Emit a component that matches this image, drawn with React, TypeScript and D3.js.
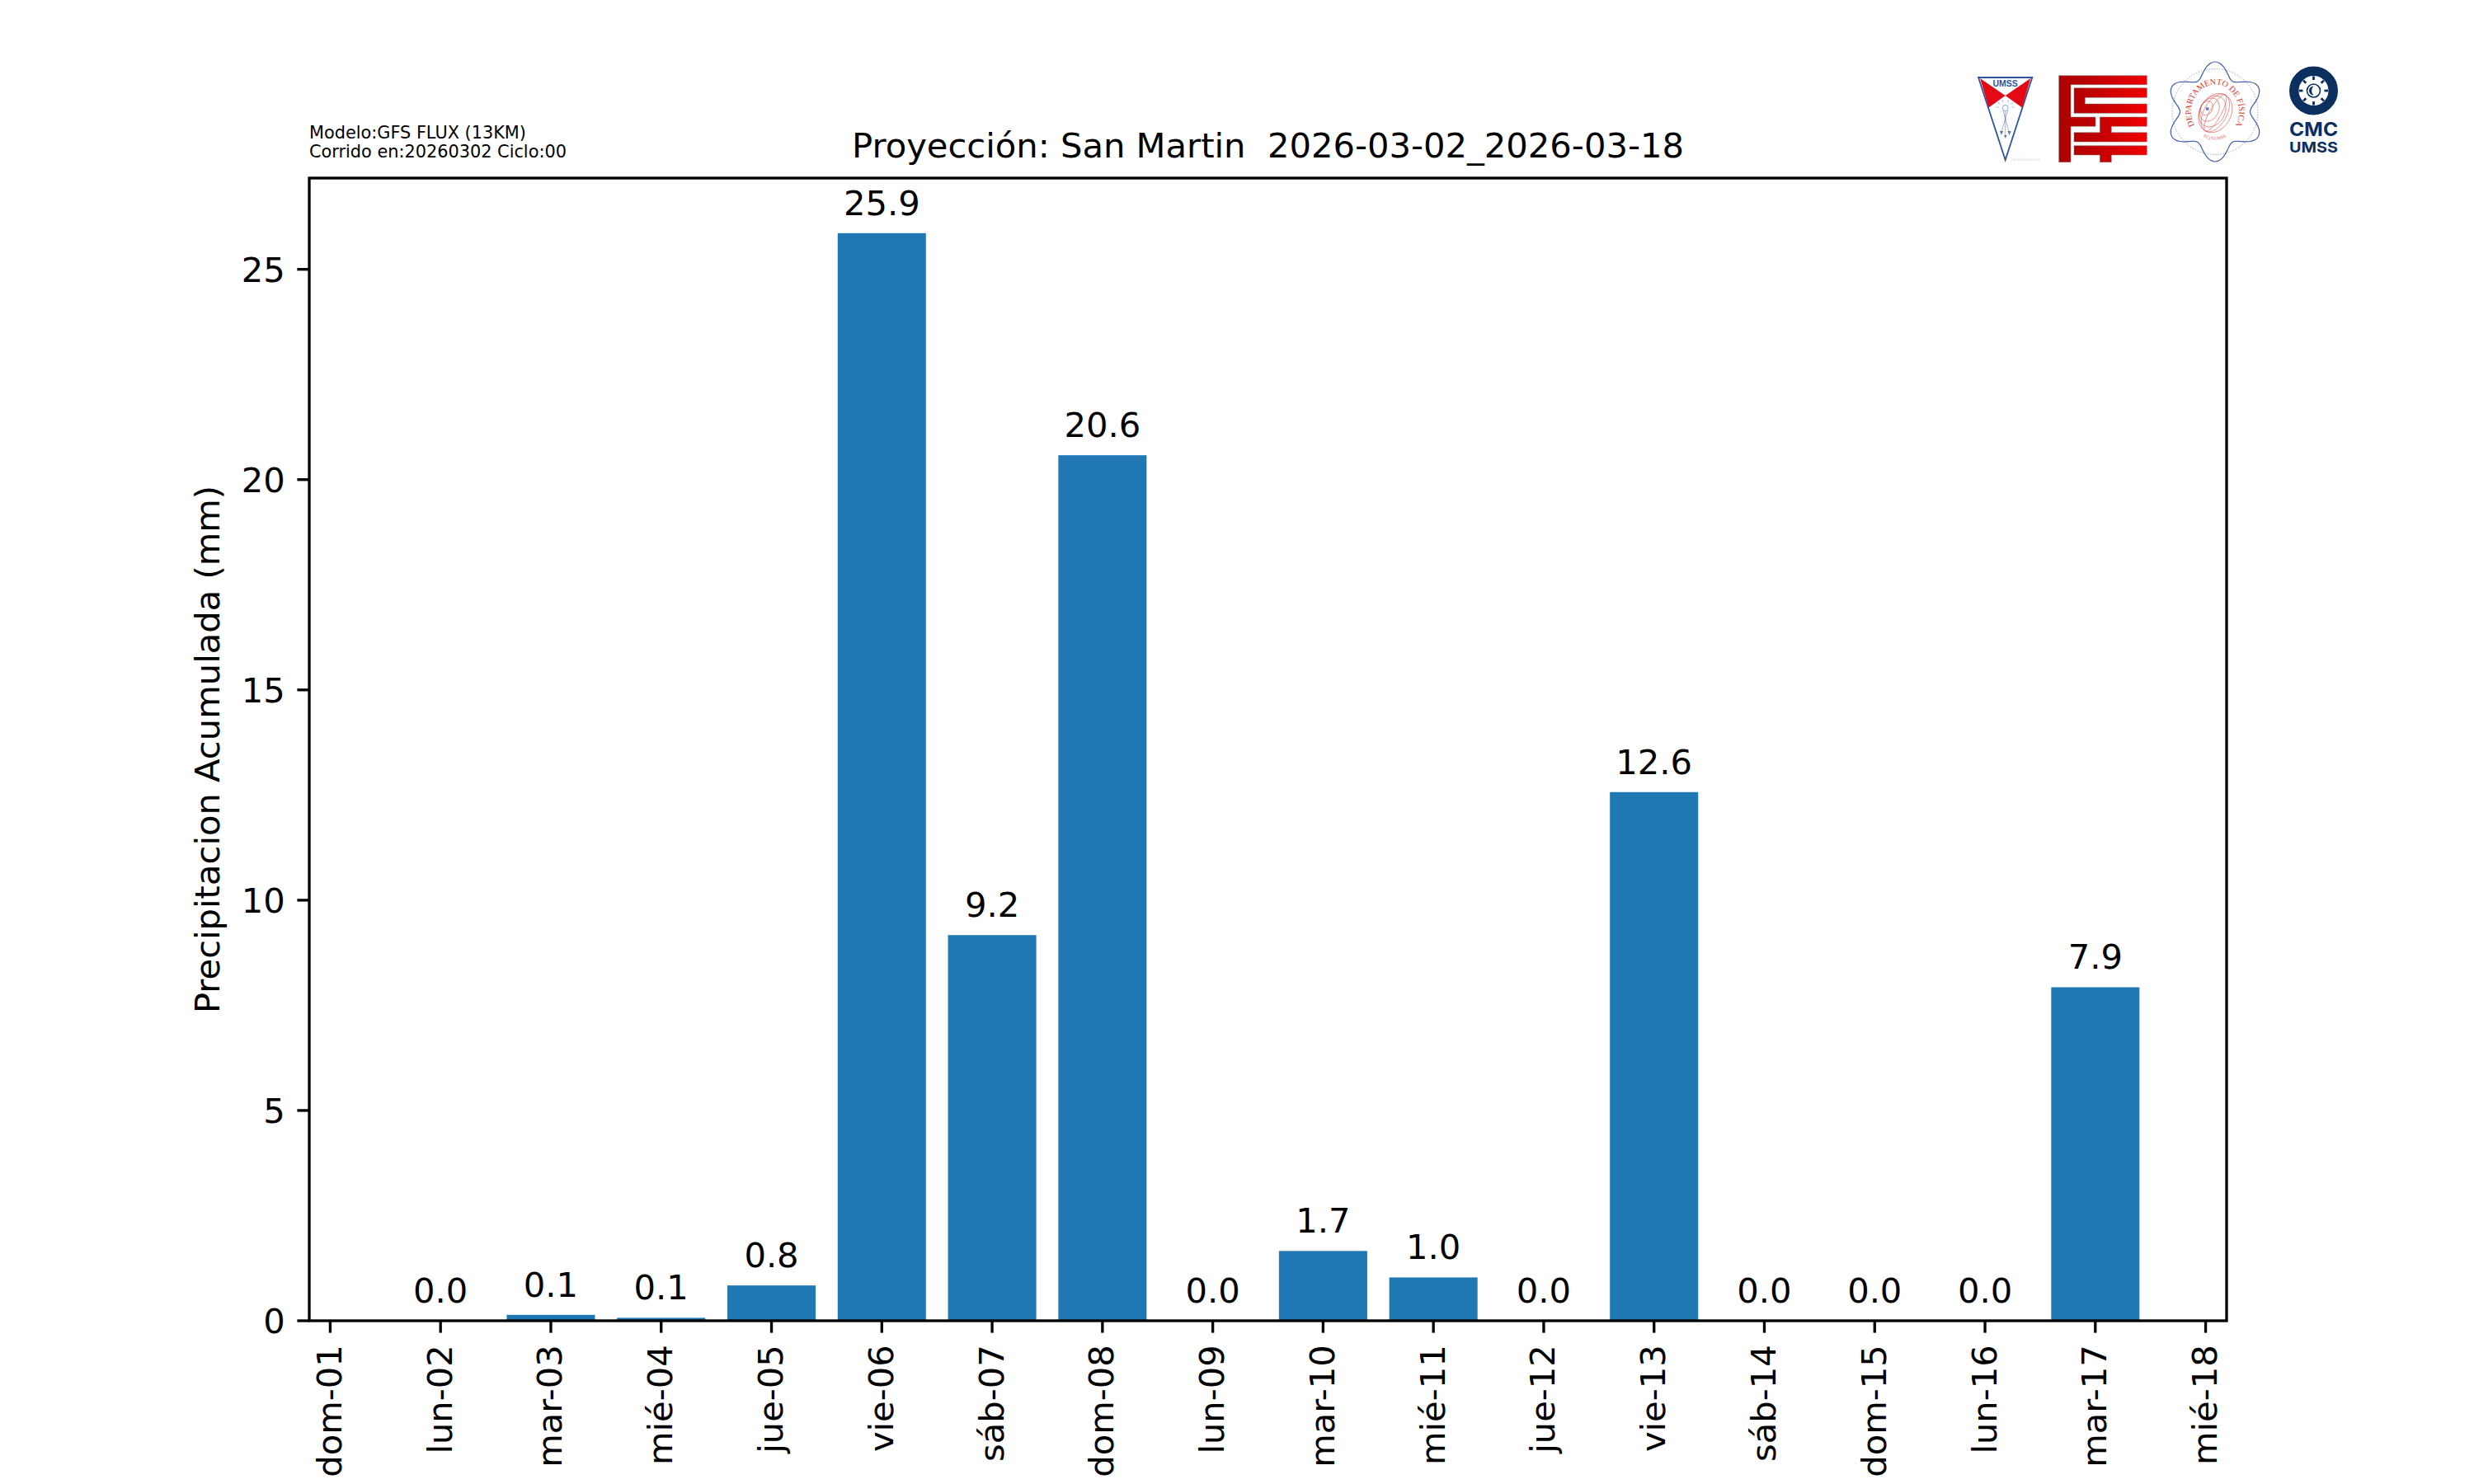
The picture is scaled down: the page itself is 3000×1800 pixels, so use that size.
import React from "react";
import * as d3 from "d3";

const tickLabels = ["dom-01","lun-02","mar-03","mié-04","jue-05","vie-06","sáb-07","dom-08","lun-09","mar-10","mié-11","jue-12","vie-13","sáb-14","dom-15","lun-16","mar-17","mié-18"];
const barDays = [1,2,3,4,5,6,7,8,9,10,11,12,13,14,15,16];
const barValues = [0,0.14,0.07,0.84,25.86,9.17,20.58,0,1.66,1.03,0,12.57,0,0,0,7.93];
const yTicks = [0,5,10,15,20,25];
const titleText = "Proyección: San Martin  2026-03-02_2026-03-18";
const yLabelText = "Precipitacion Acumulada (mm)";
const infoLines = ["Modelo:GFS FLUX (13KM)","Corrido en:20260302 Ciclo:00"];

const FONT = "'DejaVu Sans', sans-serif";
const W = 3000, H = 1800;
const L = 375, R = 2700, T = 216, B = 1602;
const LW = 3.33, TICK = 14.6;

const x = d3.scaleLinear().domain([-0.19, 17.19]).range([L, R]);
const y = d3.scaleLinear().domain([0, 27.17]).range([B, T]);
const barW = x(0.8) - x(0);

const poly = (pts: number[][]) => "M" + pts.map(p => p.join(",")).join("L") + "Z";

function LogoUMSS() {
  const blue = "#2b55a3", red = "#e30a17";
  return (
    <g>
      <path d={poly([[2399,94],[2464.3,94],[2431.7,194]])} fill="#fff" stroke={blue} strokeWidth={1.8} />
      <path d={poly([[2401,95],[2431.7,116],[2411.5,130.5]])} fill={red} />
      <path d={poly([[2462.3,95],[2431.7,116],[2452,130.5]])} fill={red} />
      <text x={2431.7} y={104.5} textAnchor="middle" fontFamily="'Liberation Sans', sans-serif" fontWeight="bold" fontSize={10.5} fill={blue}>UMSS</text>
      <circle cx={2431.7} cy={131} r={3.5} fill="none" stroke={blue} strokeWidth={0.7} opacity={0.75} />
      <path d="M2429,134L2436,160M2434.5,134L2427,160M2431.7,135L2431.7,164" stroke={blue} strokeWidth={0.6} fill="none" opacity={0.75} />
      <path d="M2425,159L2427,164L2429,159ZM2434.5,159L2436.5,164L2438.5,159ZM2430,164L2431.7,168L2433.5,164Z" fill={blue} opacity={0.8} />
      <path d="M2424,130h-3.5M2425,126l-3,-2M2429,124l-1,-3M2434.5,124l1,-3M2438.5,126l3,-2M2439.5,130h3.5" stroke={blue} strokeWidth={0.7} opacity={0.6} />
      <text x={2456.7} y={195} textAnchor="middle" fontFamily={FONT} fontSize={4.5} fill="#d4d4d4">creadictivo.com</text>
    </g>
  );
}

function LogoFCyT() {
  const shapes = [
    [[335,35],[655,35],[655,68],[378,68],[378,186],[468,186],[468,220],[378,220],[378,350],[335,350]],
    [[390,80],[655,80],[655,115],[430,115],[430,138],[655,138],[655,172],[390,172]],
    [[484,186],[655,186],[655,220],[526,220],[526,242],[655,242],[655,276],[390,276],[390,242],[484,242]],
    [[390,290],[655,290],[655,324],[526,324],[526,350],[484,350],[484,324],[390,324]],
  ];
  return (
    <g transform="translate(2385,80) scale(0.3333)">
      <defs>
        <linearGradient id="fcytRed" gradientUnits="userSpaceOnUse" x1={335} y1={0} x2={655} y2={0}>
          <stop offset="0" stopColor="#ab0000" />
          <stop offset="0.4" stopColor="#c00000" />
          <stop offset="1" stopColor="#f00000" />
        </linearGradient>
      </defs>
      {shapes.map((s, i) => (
        <path key={i} d={poly(s)} fill="url(#fcytRed)" stroke="#777" strokeWidth={1.5} />
      ))}
    </g>
  );
}

function LogoFisica() {
  const cx = 2686, cy = 135.5;
  const tx = 2685.7, ty = 140.7;
  const blue = "#3f5aa9", red = "#d2352b";
  const angles = d3.range(0, 360, 5).map(a => (a * Math.PI) / 180);
  const outline = d3.lineRadial<number>()
    .angle(a => a)
    .radius(a => 51.5 + 9 * Math.cos(6 * a))
    .curve(d3.curveCatmullRomClosed)(angles) as string;
  const px = 2669.7, py = 127.8;
  const family = [[19, 25], [15, 20], [11, 15], [7, 9]];
  const meridians = [14, 7];
  return (
    <g>
      <defs>
        <path id="fisArc" d={`M${cx - 24.3},${cy + 18} A29,33 0 1 1 ${cx + 24.3},${cy + 18}`} />
        <path id="fisArcLow" d={`M${tx - 21},${ty + 20} A29,29 0 0 0 ${tx + 21},${ty + 20}`} />
      </defs>
      <circle cx={cx} cy={cy} r={52} fill="none" stroke={blue} strokeWidth={0.7} strokeDasharray="1.4 1.8" opacity={0.8} />
      <path d={outline} transform={`translate(${cx},${cy})`} fill="none" stroke={blue} strokeWidth={1.2} />
      <text fontFamily="'Liberation Serif', serif" fontSize={10.2} fill={red}>
        <textPath href="#fisArc" startOffset="50%" textAnchor="middle">DEPARTAMENTO DE FÍSICA</textPath>
      </text>
      <text fontFamily="'Liberation Serif', serif" fontSize={5.5} fill={red} opacity={0.8}>
        <textPath href="#fisArcLow" startOffset="50%" textAnchor="middle">FCyT-UMSS</textPath>
      </text>
      <g fill="none" stroke={red} strokeWidth={0.55} opacity={0.85} transform={`translate(${px},${py}) rotate(29)`}>
        {family.map(([a, b]) => (
          <ellipse key={a} cx={a} cy={0} rx={a} ry={b} />
        ))}
        {meridians.map(a => (
          <ellipse key={"m" + a} cx={19} cy={0} rx={a} ry={25} />
        ))}
      </g>
      <circle cx={2676.7} cy={132} r={2} fill={blue} opacity={0.8} />
    </g>
  );
}

function LogoCMC() {
  const navy = "#0b3060";
  const cx = 2805.5, cy = 110;
  const rays = d3.range(0, 360, 45);
  return (
    <g>
      <circle cx={cx} cy={cy} r={23.75} fill="none" stroke={navy} strokeWidth={11.5} />
      <circle cx={cx} cy={cy} r={8} fill="none" stroke={navy} strokeWidth={1.6} />
      <path d={`M${cx},${cy - 5.5}A5.5,5.5 0 0 0 ${cx},${cy + 5.5}A7.5,7.5 0 0 1 ${cx},${cy - 5.5}Z`} fill={navy} />
      {rays.map(a => (
        <rect key={a} x={cx - 1.4} y={cy - 17.5} width={2.8} height={4.5} fill={navy} transform={`rotate(${a} ${cx} ${cy})`} />
      ))}
      <text x={cx} y={165} textAnchor="middle" fontFamily="Inter, sans-serif" fontWeight={700} fontSize={23} textLength={59} lengthAdjust="spacingAndGlyphs" fill={navy}>CMC</text>
      <text x={cx} y={185} textAnchor="middle" fontFamily="Inter, sans-serif" fontWeight={700} fontSize={18} textLength={59} lengthAdjust="spacingAndGlyphs" fill={navy}>UMSS</text>
    </g>
  );
}

export default function App() {
  return (
    <svg width={W} height={H} viewBox={`0 0 ${W} ${H}`} style={{ position: "absolute", left: 0, top: 0, background: "#fff" }} fontFamily={FONT} fill="#000">
      <rect width={W} height={H} fill="#fff" />
      {barDays.map((d, i) => (
        <rect key={d} x={x(d) - barW / 2} width={barW} y={y(barValues[i])} height={y(0) - y(barValues[i])} fill="#1f77b4" />
      ))}
      {barDays.map((d, i) => (
        <text key={d} x={x(d)} y={y(barValues[i]) - 22} textAnchor="middle" fontSize={41.67}>{barValues[i].toFixed(1)}</text>
      ))}
      <rect x={L} y={T} width={R - L} height={B - T} fill="none" stroke="#000" strokeWidth={LW} />
      {yTicks.map(t => (
        <g key={t}>
          <line x1={L - TICK} x2={L} y1={y(t)} y2={y(t)} stroke="#000" strokeWidth={LW} />
          <text x={L - 29.2} y={y(t) + 15.2} textAnchor="end" fontSize={41.67}>{t}</text>
        </g>
      ))}
      {tickLabels.map((t, i) => (
        <g key={t}>
          <line x1={x(i)} x2={x(i)} y1={B} y2={B + TICK} stroke="#000" strokeWidth={LW} />
          <text transform={`translate(${x(i) + 13.5},${B + 29.2}) rotate(-90)`} textAnchor="end" fontSize={41.67}>{t}</text>
        </g>
      ))}
      <text transform={`translate(266,${(T + B) / 2}) rotate(-90)`} textAnchor="middle" fontSize={41.67}>{yLabelText}</text>
      <text x={(L + R) / 2} y={191} textAnchor="middle" fontSize={41.67} xmlSpace="preserve" style={{ whiteSpace: "pre" }}>{titleText}</text>
      {infoLines.map((l, i) => (
        <text key={l} x={L} y={168 + i * 22.6} fontSize={20.83}>{l}</text>
      ))}
      <LogoUMSS />
      <LogoFCyT />
      <LogoFisica />
      <LogoCMC />
    </svg>
  );
}
